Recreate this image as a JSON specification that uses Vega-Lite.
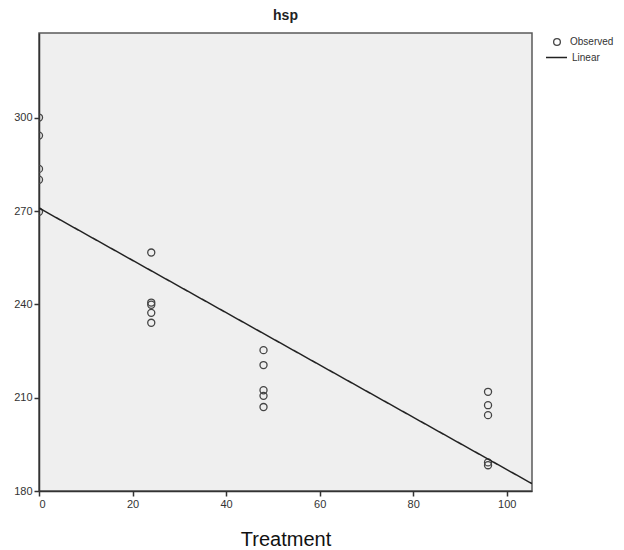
{
  "$schema": "https://vega.github.io/schema/vega-lite/v6.json",
  "width": 493,
  "height": 458,
  "autosize": {"type": "none"},
  "padding": {"left": 39, "top": 33, "right": 92, "bottom": 59},
  "background": "white",
  "title": {"text": "hsp", "fontSize": 14, "fontWeight": "bold", "font": "Liberation Sans", "color": "#222", "offset": 10},
  "config": {
    "view": {"fill": "#efefef", "stroke": "#5a5a5a", "strokeWidth": 1.5},
    "font": "Liberation Sans",
    "axis": {"grid": false, "domainColor": "#333", "tickColor": "#333", "labelColor": "#333", "labelFontSize": 11, "tickSize": 5, "domainWidth": 1.5, "tickWidth": 1.5},
    "legend": {"labelFontSize": 10, "labelColor": "#333"}
  },
  "data": {
    "values": [
      {"Treatment": 0, "hsp": 300.1},
      {"Treatment": 0, "hsp": 294.3},
      {"Treatment": 0, "hsp": 283.6},
      {"Treatment": 0, "hsp": 280.1},
      {"Treatment": 0, "hsp": 269.8},
      {"Treatment": 24, "hsp": 256.7},
      {"Treatment": 24, "hsp": 240.6},
      {"Treatment": 24, "hsp": 239.9},
      {"Treatment": 24, "hsp": 237.3},
      {"Treatment": 24, "hsp": 234.1},
      {"Treatment": 48, "hsp": 225.3},
      {"Treatment": 48, "hsp": 220.5},
      {"Treatment": 48, "hsp": 212.4},
      {"Treatment": 48, "hsp": 210.6},
      {"Treatment": 48, "hsp": 207.0},
      {"Treatment": 96, "hsp": 211.9},
      {"Treatment": 96, "hsp": 207.6},
      {"Treatment": 96, "hsp": 204.4},
      {"Treatment": 96, "hsp": 189.2},
      {"Treatment": 96, "hsp": 188.3}
    ]
  },
  "layer": [
    {
      "mark": {"type": "point", "shape": "circle", "filled": false, "size": 50, "strokeWidth": 1.3, "clip": true, "opacity": 1},
      "encoding": {
        "x": {"field": "Treatment", "type": "quantitative", "scale": {"domain": [0, 105.4], "nice": false, "zero": false},
              "axis": {"values": [0, 20, 40, 60, 80, 100], "title": "Treatment", "titleFontSize": 20, "titleFontWeight": "normal", "titleColor": "#111", "titlePadding": 20}},
        "y": {"field": "hsp", "type": "quantitative", "scale": {"domain": [180, 327.3], "nice": false, "zero": false},
              "axis": {"values": [180, 210, 240, 270, 300], "title": null}},
        "shape": {"datum": "Observed", "type": "nominal", "scale": {"range": ["circle"]},
                  "legend": {"title": null, "orient": "none", "legendX": 513, "legendY": 4, "labelOffset": 8, "symbolSize": 45, "symbolStrokeColor": "#444", "symbolStrokeWidth": 1.3, "symbolFillColor": "transparent"}},
        "color": {"value": "#444"}
      }
    },
    {
      "mark": {"type": "line", "color": "#222", "strokeWidth": 1.5, "clip": true},
      "transform": [{"regression": "hsp", "on": "Treatment", "extent": [0, 105.4]}],
      "encoding": {
        "x": {"field": "Treatment", "type": "quantitative"},
        "y": {"field": "hsp", "type": "quantitative"},
        "strokeDash": {"datum": "Linear", "type": "nominal", "scale": {"range": [[1, 0]]},
                       "legend": {"title": null, "orient": "none", "legendX": 506, "legendY": 13, "labelOffset": 4, "symbolStrokeColor": "#222", "symbolStrokeWidth": 1.5, "symbolSize": 441}}
      }
    }
  ]
}
